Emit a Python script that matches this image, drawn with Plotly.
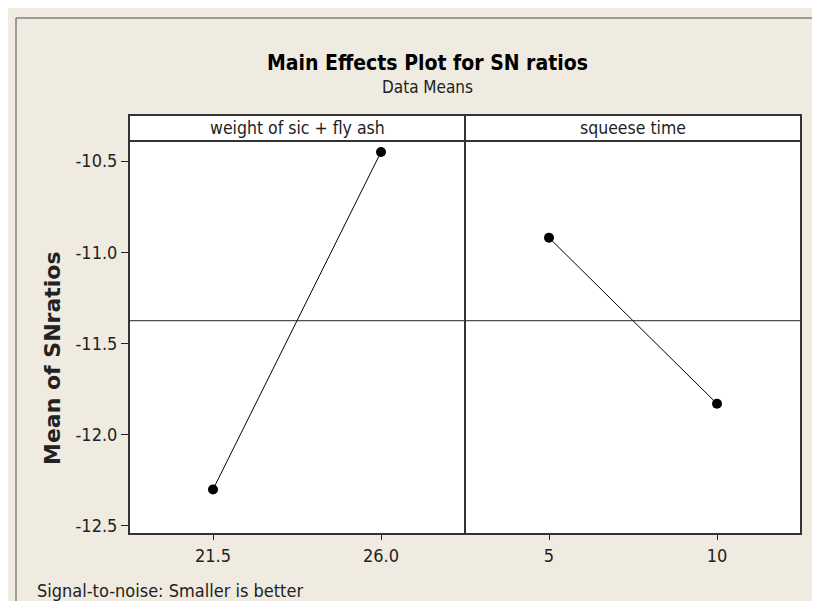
import numpy as np
import plotly.graph_objects as go

# ---- data ----
factor1_name = "weight of sic + fly ash"
factor1_levels = [21.5, 26.0]
factor1_labels = ["21.5", "26.0"]
factor1_means = [-12.30, -10.45]

factor2_name = "squeese time"
factor2_levels = [5, 10]
factor2_labels = ["5", "10"]
factor2_means = [-10.92, -11.83]

y_ticks = [-12.5, -12.0, -11.5, -11.0, -10.5]
y_tick_labels = ["-12.5", "-12.0", "-11.5", "-11.0", "-10.5"]

overall_mean = float(np.mean(factor1_means + factor2_means))

# ---- layout geometry (pixels) ----
W, H = 820, 601
L, R, T, B = 121, 27, 133, 75
PW, PH = W - L - R, H - T - B


def px(x):
    return (x - L) / PW


def py(y):
    return (H - B - y) / PH


FONT = "Tahoma, 'DejaVu Sans Condensed', 'Liberation Sans Narrow', 'DejaVu Sans', sans-serif"
BG = "#EFEBE1"

fig = go.Figure()
fig.add_trace(go.Scatter(x=factor1_levels, y=factor1_means, mode="lines+markers",
                         line=dict(color="black", width=1),
                         marker=dict(color="black", size=10),
                         xaxis="x", yaxis="y", showlegend=False))
fig.add_trace(go.Scatter(x=factor2_levels, y=factor2_means, mode="lines+markers",
                         line=dict(color="black", width=1),
                         marker=dict(color="black", size=10),
                         xaxis="x2", yaxis="y", showlegend=False))

axis_common = dict(showgrid=False, zeroline=False, ticks="outside", ticklen=5,
                   tickcolor="#222", tickwidth=1,
                   tickfont=dict(family=FONT, size=18, color="#222"), showline=False)

fig.update_layout(
    width=W, height=H,
    margin=dict(l=L, r=R, t=T, b=B, pad=0),
    paper_bgcolor=BG, plot_bgcolor="white",
    showlegend=False,
    xaxis=dict(domain=[0, 0.5], range=[19.25, 28.25], tickvals=factor1_levels,
               ticktext=factor1_labels, anchor="y", **axis_common),
    xaxis2=dict(domain=[0.5, 1], range=[2.5, 12.5], tickvals=factor2_levels,
                ticktext=factor2_labels, anchor="y", **axis_common),
    yaxis=dict(range=[-12.544, -10.39], tickvals=y_ticks, ticktext=y_tick_labels,
               anchor="x", showgrid=False, zeroline=False, ticks="outside", ticklen=7,
               tickcolor="#222", tickfont=dict(family=FONT, size=18, color="#222"),
               showline=False),
)

shapes = []
# outer frame (top + left)
shapes.append(dict(type="line", xref="paper", yref="paper", x0=px(8), x1=px(830),
                   y0=py(10), y1=py(10), line=dict(color="#808080", width=1.5)))
shapes.append(dict(type="line", xref="paper", yref="paper", x0=px(8), x1=px(8),
                   y0=py(10), y1=py(610), line=dict(color="#808080", width=1.5)))
# strip background
shapes.append(dict(type="rect", xref="paper", yref="paper", x0=0, x1=1,
                   y0=1, y1=py(107), fillcolor="white",
                   line=dict(color="#333", width=2), layer="below"))
# reference mean line
shapes.append(dict(type="line", xref="paper", yref="y", x0=0, x1=1,
                   y0=overall_mean, y1=overall_mean, line=dict(color="#222", width=1)))
# plot border
shapes.append(dict(type="rect", xref="paper", yref="paper", x0=0, x1=1, y0=0, y1=1,
                   line=dict(color="#333", width=2)))
# panel divider through strip
shapes.append(dict(type="line", xref="paper", yref="paper", x0=0.5, x1=0.5,
                   y0=0, y1=py(107), line=dict(color="#333", width=2)))
fig.update_layout(shapes=shapes)

ann = []
ann.append(dict(text="<b>Main Effects Plot for SN ratios</b>", xref="paper", yref="paper",
                x=px(419), y=py(55), xanchor="center", yanchor="middle", showarrow=False,
                font=dict(family=FONT, size=21, color="black")))
ann.append(dict(text="Data Means", xref="paper", yref="paper",
                x=px(419), y=py(79), xanchor="center", yanchor="middle", showarrow=False,
                font=dict(family=FONT, size=17, color="#222")))
ann.append(dict(text=factor1_name, xref="paper", yref="paper",
                x=0.25, y=py(120), xanchor="center", yanchor="middle", showarrow=False,
                font=dict(family=FONT, size=17.5, color="#222")))
ann.append(dict(text=factor2_name, xref="paper", yref="paper",
                x=0.75, y=py(120), xanchor="center", yanchor="middle", showarrow=False,
                font=dict(family=FONT, size=17.5, color="#222")))
ann.append(dict(text="<b>Mean of SNratios</b>", xref="paper", yref="paper",
                x=px(44), y=py(350), xanchor="center", yanchor="middle", showarrow=False,
                textangle=-90, font=dict(family="Verdana, 'DejaVu Sans', sans-serif", size=22, color="#222")))
ann.append(dict(text="Signal-to-noise: Smaller is better", xref="paper", yref="paper",
                x=px(27), y=py(582), xanchor="left", yanchor="middle", showarrow=False,
                font=dict(family=FONT, size=18, color="#222")))
fig.update_layout(annotations=ann)

fig.write_html("out.html")
